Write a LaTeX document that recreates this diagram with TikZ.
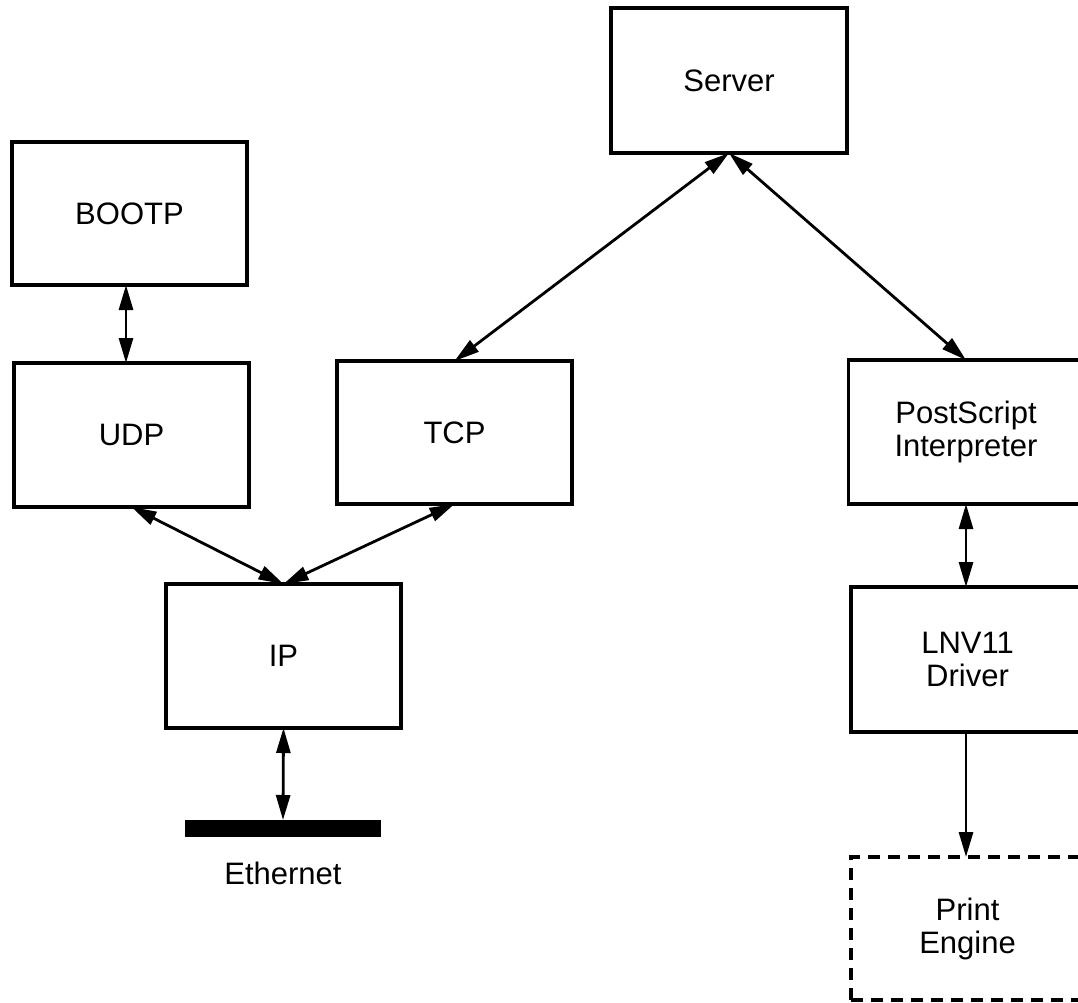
\documentclass[tikz,border=0pt]{standalone}
\usepackage{fontspec}
\setmainfont{Liberation Sans}
\usetikzlibrary{arrows.meta}
\begin{document}
\begin{tikzpicture}[x=1pt,y=-1pt,
  box/.style={draw, line width=3.1pt, rectangle, minimum width=235pt, minimum height=144pt,
    inner sep=0pt, outer sep=0pt, align=center, font=\fontsize{31}{33}\selectfont},
  dbox/.style={box, dash pattern=on 12pt off 8pt},
  conn/.style={line width=2.8pt, {Triangle[length=25pt,width=14pt]}-{Triangle[length=25pt,width=14pt]}},
  oneway/.style={line width=2.8pt, -{Triangle[length=25pt,width=14pt]}},
  lbl/.style={font=\fontsize{31}{33}\selectfont}]
\useasboundingbox (0,0) rectangle (1078,1002);
\clip (0,0) rectangle (1078,1002);
\node[box, minimum width=236pt, minimum height=145pt] (srv) at (729,80.5) {Server};
\node[box, minimum height=143pt] (bootp) at (129.5,213.5) {BOOTP};
\node[box] (udp) at (131.5,435) {UDP};
\node[box, minimum height=143pt] (tcp) at (454.5,432.5) {TCP};
\node[box] (ip) at (283.5,656) {IP};
\node[box] (ps) at (966,432) {PostScript\\Interpreter};
\node[box, minimum width=233pt, minimum height=145pt] (lnv) at (967.5,659.5) {LNV11\\Driver};
\node[dbox, minimum width=233pt, minimum height=143pt] (pe) at (967.5,928.5) {Print\\Engine};
\node[fill=black, minimum width=196pt, minimum height=17pt, inner sep=0pt, outer sep=0pt] (eth) at (283,828.5) {};
\node[lbl, anchor=base] (ethl) at (283,884) {Ethernet};
\draw[conn] (srv.south) -- (tcp.north);
\draw[conn] (srv.south) -- (ps.north);
\draw[conn] ([xshift=-3.5pt]bootp.south) -- ([xshift=-5.5pt]udp.north);
\draw[conn] (udp.south) -- (ip.north);
\draw[conn] (tcp.south) -- (ip.north);
\draw[conn] (ip.south) -- (eth.north);
\draw[conn] (ps.south) -- (ps.south |- lnv.north);
\draw[oneway] (lnv.south -| ps.south) -- (ps.south |- pe.north);
\end{tikzpicture}
\end{document}
